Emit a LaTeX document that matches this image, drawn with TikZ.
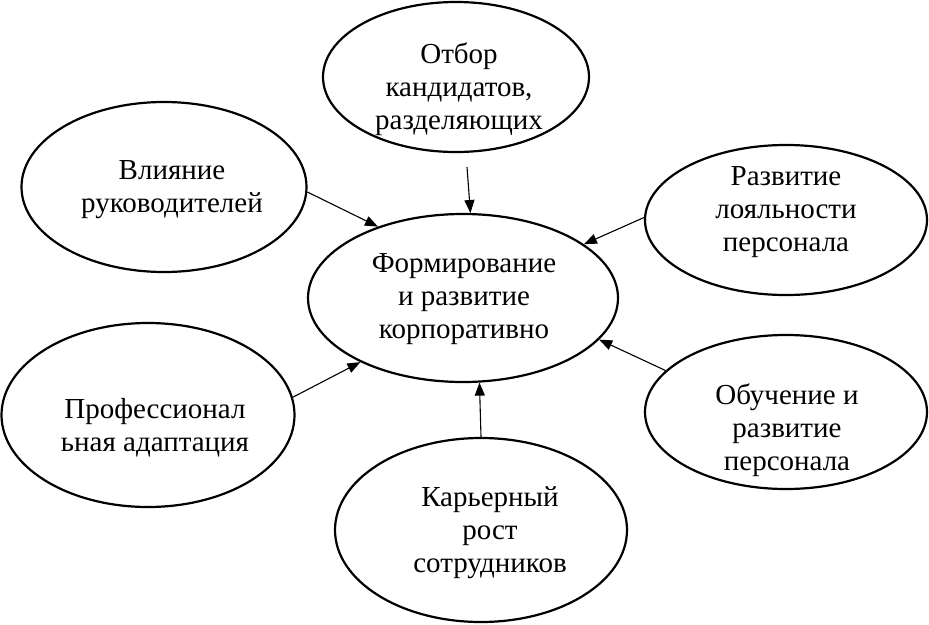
\documentclass[tikz,border=0pt]{standalone}
\usepackage{fontspec}
\setmainfont{Liberation Serif}
\usetikzlibrary{shapes.geometric,arrows.meta}
\begin{document}
\begin{tikzpicture}[x=1pt,y=-1pt,
  oval/.style={draw=black,line width=2.2pt,ellipse,inner sep=0pt},
  lbl/.style={align=center,inner sep=0pt,font=\fontsize{29}{33}\selectfont},
  conn/.style={line width=1.1pt,-{Triangle[length=13pt,width=10pt]}}]
\useasboundingbox (0,0) rectangle (929,624);
% ellipses
\node[oval,minimum width=310pt,minimum height=168pt] (c) at (463,298) {};
\node[oval,minimum width=266pt,minimum height=150pt] (top) at (456,77) {};
\node[oval,minimum width=285pt,minimum height=170pt] (lt) at (164,187) {};
\node[oval,minimum width=282pt,minimum height=150pt] (rt) at (786,220) {};
\node[oval,minimum width=293pt,minimum height=184pt] (lb) at (148,415) {};
\node[oval,minimum width=282pt,minimum height=154pt] (rb) at (786,412) {};
\node[oval,minimum width=292pt,minimum height=184pt] (bot) at (481,530) {};
% texts
\node[lbl] (tc) at (464,299) {Формирование\\и развитие\\корпоративно};
\node[lbl] (ttop) at (459,89) {Отбор\\кандидатов,\\разделяющих};
\node[lbl] (tlt) at (172,190) {Влияние\\руководителей};
\node[lbl] (trt) at (786,212) {Развитие\\лояльности\\персонала};
\node[lbl] (tlb) at (155,428) {Профессионал\\ьная адаптация};
\node[lbl] (trb) at (787,430) {Обучение и\\развитие\\персонала};
\node[lbl] (tbot) at (490,533) {Карьерный\\рост\\сотрудников};
% connectors
\coordinate (topstart) at (467,167);
\draw[conn] (topstart) -- (c.85);
\draw[conn] (lt.358) -- (c.140);
\draw[conn] (rt.179) -- (c.24);
\draw[conn] (lb.7) -- (c.212);
\draw[conn] (rb.161) -- (c.343);
\draw[conn] (bot.90) -- (c.281);
\end{tikzpicture}
\end{document}
